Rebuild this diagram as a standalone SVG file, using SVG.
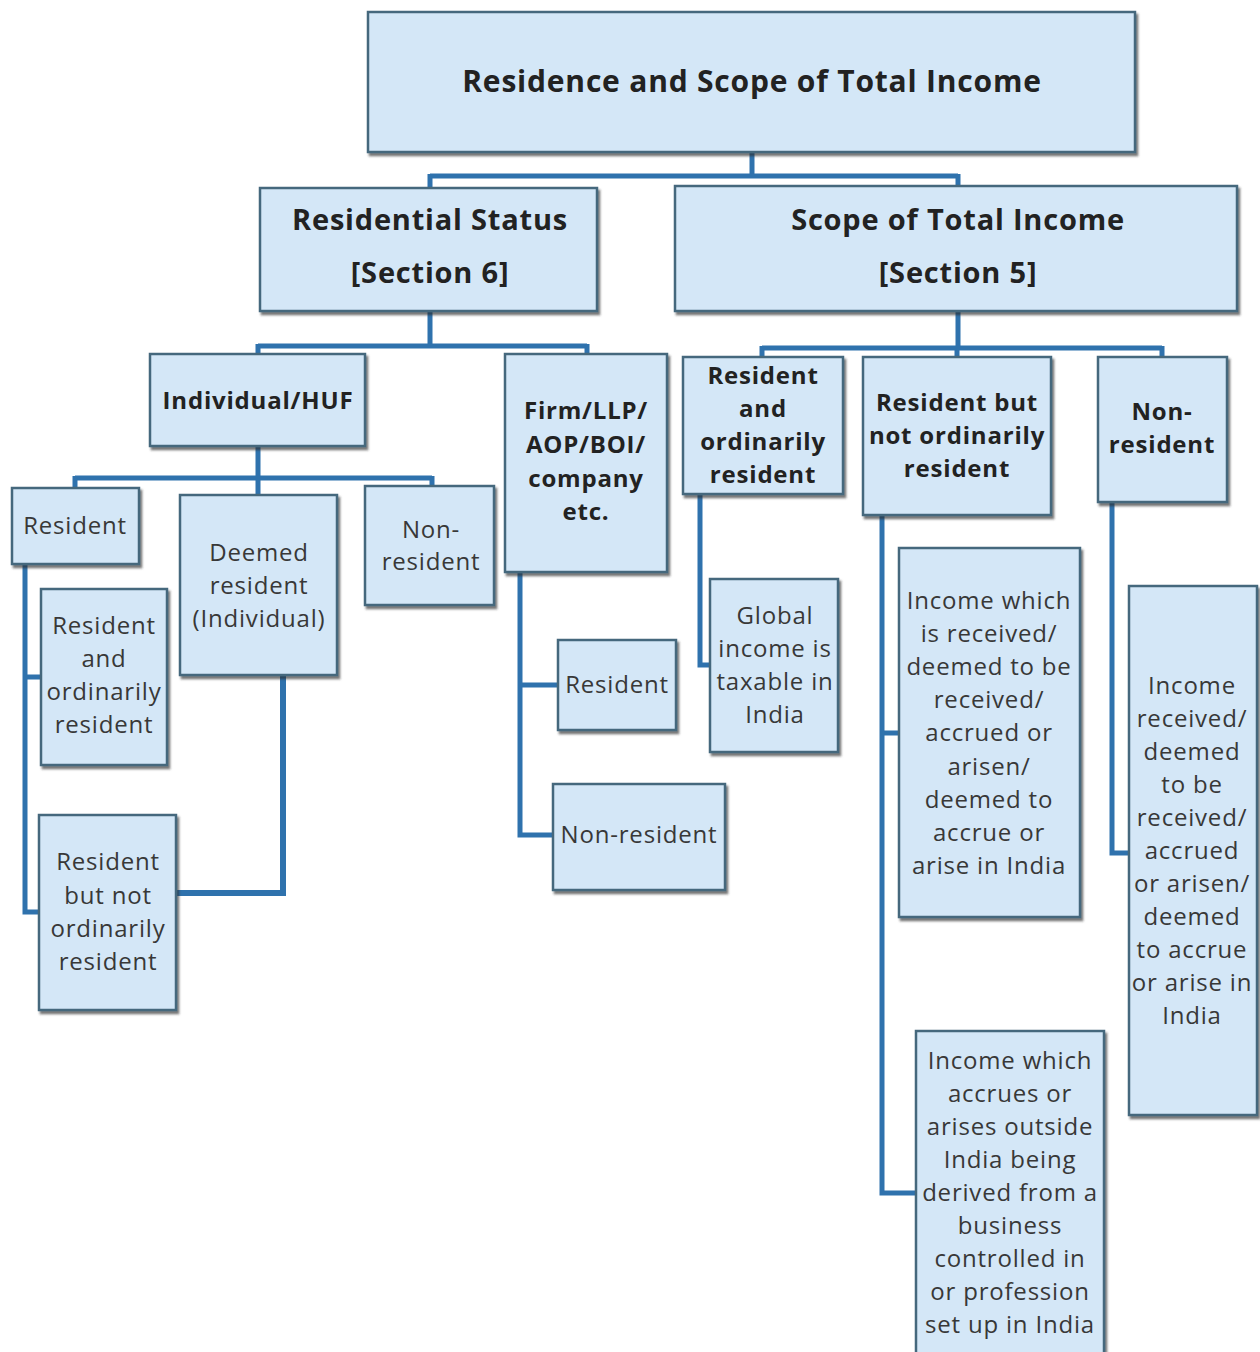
<svg xmlns="http://www.w3.org/2000/svg" width="1260" height="1352" viewBox="0 0 1260 1352">
  <defs>
    <filter id="sh" x="-10%" y="-10%" width="130%" height="130%">
      <feDropShadow dx="2" dy="3" stdDeviation="1.2" flood-color="#2a2a2a" flood-opacity="0.65"/>
    </filter>
    <style>
      .box rect { fill: #d4e7f7; stroke: #44677d; stroke-width: 2.5; filter: url(#sh); }
      .t { font-family: "Open Sans", "Noto Sans", sans-serif; text-anchor: middle; fill: #383838; font-size: 24px; letter-spacing: 0.8px; }
      .b { font-weight: bold; fill: #222; }
      .conn path { stroke: #2f72ad; stroke-width: 5; fill: none; stroke-linejoin: miter; }
    </style>
  </defs>
  <rect width="1260" height="1352" fill="#ffffff"/>

  <!-- connectors -->
  <g id="connectors" class="conn">
    <path d="M752 152 V176 M430 176 H958 M430 174 V188 M958 174 V188"/>
    <path d="M430 311 V346 M258 346 H587 M258 344 V354 M587 344 V354"/>
    <path d="M958 311 V348 M762 348 H1162 M762 346 V357 M957 346 V357 M1162 346 V357"/>
    <path d="M258 446 V478 M75 478 H432 M75 476 V488 M258 476 V495 M432 476 V486"/>
    <path d="M25 564 V912 H39 M25 677 H41"/>
    <path d="M283 675 V893 H176" style="stroke-width:6"/>
    <path d="M520 572 V835 H553 M520 685 H558"/>
    <path d="M700 494 V665 H710"/>
    <path d="M882 515 V1193 H916 M882 733 H899"/>
    <path d="M1112 502 V853 H1129"/>
  </g>

  <!-- level 0 -->
  <g id="root" class="box">
    <rect x="368" y="12" width="767" height="140"/>
    <text class="t b" x="752" y="92" style="font-size:30px">Residence and Scope of Total Income</text>
  </g>

  <!-- level 1 -->
  <g id="residential-status" class="box">
    <rect x="260" y="188" width="337" height="123"/>
    <text class="t b" style="font-size:29px"><tspan x="430" y="230">Residential Status</tspan><tspan x="430" y="283">[Section 6]</tspan></text>
  </g>
  <g id="scope-total-income" class="box">
    <rect x="675" y="186" width="562" height="125"/>
    <text class="t b" style="font-size:29px"><tspan x="958" y="230">Scope of Total Income</tspan><tspan x="958" y="283">[Section 5]</tspan></text>
  </g>

  <!-- level 2 -->
  <g id="individual-huf" class="box">
    <rect x="150" y="354" width="215" height="92"/>
    <text class="t b" x="258" y="409">Individual/HUF</text>
  </g>
  <g id="firm-llp" class="box">
    <rect x="505" y="354" width="162" height="218"/>
    <text class="t b"><tspan x="586" y="419">Firm/LLP/</tspan><tspan x="586" y="453">AOP/BOI/</tspan><tspan x="586" y="487">company</tspan><tspan x="586" y="520">etc.</tspan></text>
  </g>
  <g id="scope-ror" class="box">
    <rect x="683" y="357" width="160" height="137"/>
    <text class="t b"><tspan x="763" y="384">Resident</tspan><tspan x="763" y="417">and</tspan><tspan x="763" y="450">ordinarily</tspan><tspan x="763" y="483">resident</tspan></text>
  </g>
  <g id="scope-rnor" class="box">
    <rect x="863" y="357" width="188" height="158"/>
    <text class="t b"><tspan x="957" y="411">Resident but</tspan><tspan x="957" y="444">not ordinarily</tspan><tspan x="957" y="477">resident</tspan></text>
  </g>
  <g id="scope-nr" class="box">
    <rect x="1098" y="357" width="129" height="145"/>
    <text class="t b"><tspan x="1162" y="420">Non-</tspan><tspan x="1162" y="453">resident</tspan></text>
  </g>

  <!-- individual / HUF statuses -->
  <g id="ind-resident" class="box">
    <rect x="12" y="488" width="127" height="76"/>
    <text class="t" x="75" y="534">Resident</text>
  </g>
  <g id="ind-deemed" class="box">
    <rect x="180" y="495" width="157" height="180"/>
    <text class="t"><tspan x="259" y="561">Deemed</tspan><tspan x="259" y="594">resident</tspan><tspan x="259" y="627">(Individual)</tspan></text>
  </g>
  <g id="ind-nr" class="box">
    <rect x="365" y="486" width="129" height="119"/>
    <text class="t"><tspan x="431" y="538">Non-</tspan><tspan x="431" y="570">resident</tspan></text>
  </g>
  <g id="ind-ror" class="box">
    <rect x="41" y="589" width="126" height="176"/>
    <text class="t"><tspan x="104" y="634">Resident</tspan><tspan x="104" y="667">and</tspan><tspan x="104" y="700">ordinarily</tspan><tspan x="104" y="733">resident</tspan></text>
  </g>
  <g id="ind-rnor" class="box">
    <rect x="39" y="815" width="137" height="195"/>
    <text class="t"><tspan x="108" y="870">Resident</tspan><tspan x="108" y="904">but not</tspan><tspan x="108" y="937">ordinarily</tspan><tspan x="108" y="970">resident</tspan></text>
  </g>

  <!-- firm statuses -->
  <g id="firm-resident" class="box">
    <rect x="558" y="640" width="118" height="90"/>
    <text class="t" x="617" y="693">Resident</text>
  </g>
  <g id="firm-nr" class="box">
    <rect x="553" y="784" width="172" height="106"/>
    <text class="t" x="639" y="843">Non-resident</text>
  </g>

  <!-- scope details -->
  <g id="scope-global" class="box">
    <rect x="710" y="579" width="128" height="173"/>
    <text class="t"><tspan x="775" y="624">Global</tspan><tspan x="775" y="657">income is</tspan><tspan x="775" y="690">taxable in</tspan><tspan x="775" y="723">India</tspan></text>
  </g>
  <g id="scope-rnor-india" class="box">
    <rect x="899" y="548" width="181" height="369"/>
    <text class="t"><tspan x="989" y="609">Income which</tspan><tspan x="989" y="642">is received/</tspan><tspan x="989" y="675">deemed to be</tspan><tspan x="989" y="708">received/</tspan><tspan x="989" y="741">accrued or</tspan><tspan x="989" y="775">arisen/</tspan><tspan x="989" y="808">deemed to</tspan><tspan x="989" y="841">accrue or</tspan><tspan x="989" y="874">arise in India</tspan></text>
  </g>
  <g id="scope-rnor-outside" class="box">
    <rect x="916" y="1031" width="188" height="330"/>
    <text class="t"><tspan x="1010" y="1069">Income which</tspan><tspan x="1010" y="1102">accrues or</tspan><tspan x="1010" y="1135">arises outside</tspan><tspan x="1010" y="1168">India being</tspan><tspan x="1010" y="1201">derived from a</tspan><tspan x="1010" y="1234">business</tspan><tspan x="1010" y="1267">controlled in</tspan><tspan x="1010" y="1300">or profession</tspan><tspan x="1010" y="1333">set up in India</tspan></text>
  </g>
  <g id="scope-nr-india" class="box">
    <rect x="1129" y="586" width="128" height="529"/>
    <text class="t"><tspan x="1192" y="694">Income</tspan><tspan x="1192" y="727">received/</tspan><tspan x="1192" y="760">deemed</tspan><tspan x="1192" y="793">to be</tspan><tspan x="1192" y="826">received/</tspan><tspan x="1192" y="859">accrued</tspan><tspan x="1192" y="892">or arisen/</tspan><tspan x="1192" y="925">deemed</tspan><tspan x="1192" y="958">to  accrue</tspan><tspan x="1192" y="991">or arise in</tspan><tspan x="1192" y="1024">India</tspan></text>
  </g>
</svg>
